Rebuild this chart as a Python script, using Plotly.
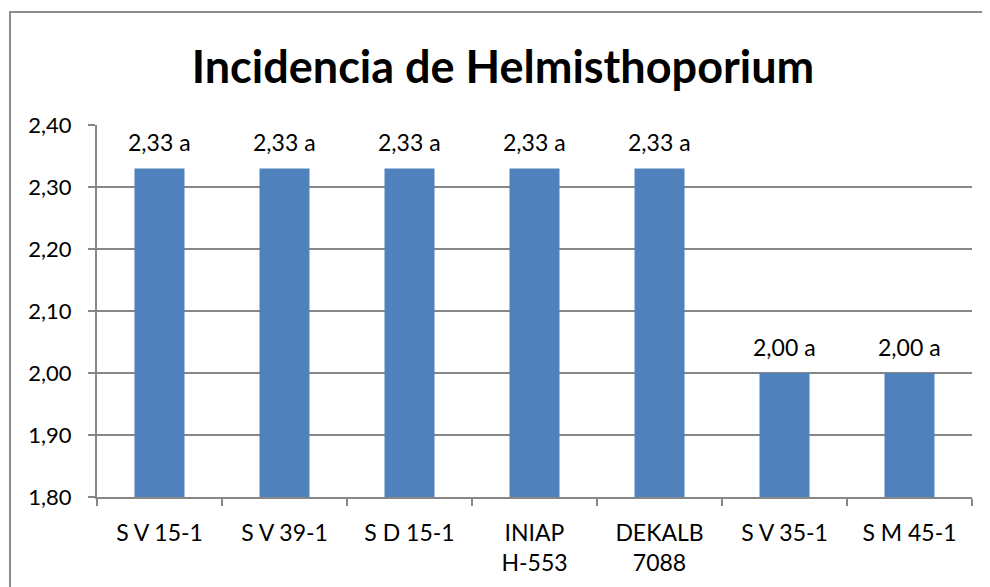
import plotly.graph_objects as go

categorias = ["S V 15-1", "S V 39-1", "S D 15-1", "INIAP<br>H-553", "DEKALB<br>7088", "S V 35-1", "S M 45-1"]
incidencia = [2.33, 2.33, 2.33, 2.33, 2.33, 2.00, 2.00]
letras = ["a", "a", "a", "a", "a", "a", "a"]

# the page puts the figure 8px in from the window edge
W, H = 990, 587
L, R, T, B = 89, 26, 117, 98
pw, ph = W - L - R, H - T - B


def px_x(x):
    return (x - L) / pw


def px_y(y):
    return (H - B - y) / ph


fig = go.Figure()
fig.add_trace(go.Bar(
    x=categorias,
    y=incidencia,
    marker=dict(color="#4F81BD", line=dict(width=0)),
))

for c, v, l in zip(categorias, incidencia, letras):
    fig.add_annotation(x=c, y=v, text=f"{v:.2f}".replace(".", ",") + " " + l,
                       showarrow=False, yshift=26, yanchor="middle",
                       font=dict(size=23, color="#000000"))

fig.update_layout(
    width=W, height=H,
    margin=dict(l=L, r=R, t=T, b=B, autoexpand=False),
    paper_bgcolor="white",
    plot_bgcolor="white",
    font=dict(family="Lato", size=21, color="#000000"),
    separators=",.",
    bargap=0.6,
    showlegend=False,
    title=dict(text="<b>Incidencia de Helmisthoporium</b>", x=0.5, xanchor="center",
               y=1 - 59 / H, yanchor="middle", font=dict(size=45, family="Lato")),
    shapes=[dict(type="rect", xref="paper", yref="paper",
                 x0=px_x(2), x1=px_x(1000), y0=px_y(600), y1=px_y(4),
                 line=dict(color="#8C8C8C", width=2), layer="below")],
)

fig.update_xaxes(
    automargin=False,
    showline=True, linecolor="#868686", linewidth=2,
    ticks="outside", tickson="boundaries", ticklen=7, tickcolor="#868686", tickwidth=2,
    ticklabelstandoff=14, tickfont=dict(size=23),
    showgrid=False,
)
fig.update_yaxes(
    automargin=False,
    range=[1.8, 2.4], dtick=0.1, tickformat=".2f",
    showline=True, linecolor="#868686", linewidth=2,
    ticks="outside", ticklen=7, tickcolor="#868686", tickwidth=2,
    ticklabelstandoff=12, tickfont=dict(size=22),
    showgrid=True, gridcolor="#868686", gridwidth=1.5,
    zeroline=False,
)

fig.write_html("out.html")
